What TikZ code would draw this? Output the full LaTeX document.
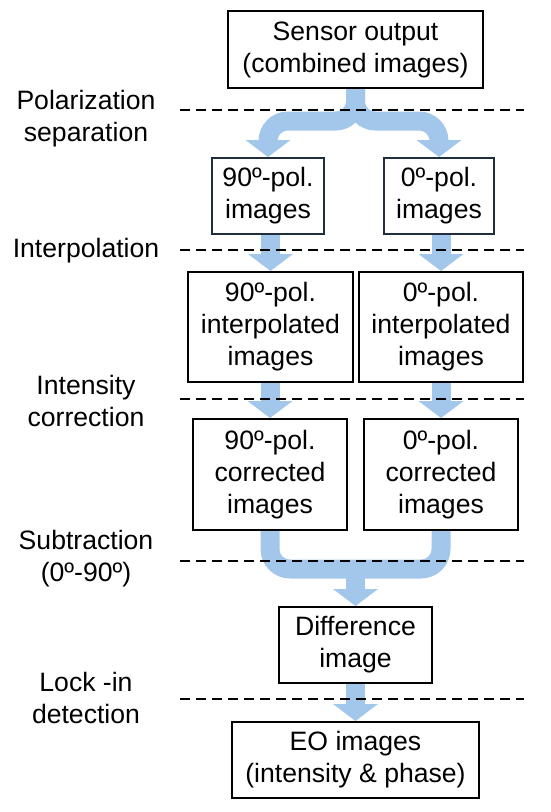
\documentclass[tikz,border=0pt]{standalone}
\usepackage{fontspec}
\setmainfont{Liberation Sans}
\definecolor{arrowblue}{HTML}{A3C7EB}
\definecolor{navyborder}{HTML}{1F2D3D}
\pgfdeclarelayer{bg}
\pgfdeclarelayer{mid}
\pgfsetlayers{bg,mid,main}
\tikzset{
  txt/.style={font=\fontsize{26.6pt}{32pt}\selectfont, align=center, inner sep=0pt},
  box/.style={txt, draw=black, line width=2pt, fill=white},
  navybox/.style={box, draw=navyborder},
  shaft/.style={draw=arrowblue, line width=19pt, rounded corners=20pt},
  sepline/.style={draw=black, line width=2pt, dash pattern=on 10pt off 6pt},
}
\newcommand\bhead[1]{\fill[arrowblue] (#1.north) -- ++(-22.5pt,17pt) -- ++(45pt,0pt) -- cycle;}
\begin{document}
\begin{tikzpicture}[x=1pt,y=-1pt]
\useasboundingbox (0,0) rectangle (550,812);
% boxes
\node[box, minimum width=255pt, minimum height=77pt] (sensor) at (355.5,49.5) {Sensor output\\(combined images)};
\node[navybox, minimum width=112pt, minimum height=76pt] (p90) at (268,196) {90º-pol.\\images};
\node[navybox, minimum width=110pt, minimum height=76pt] (p0) at (439,196) {0º-pol.\\images};
\node[box, minimum width=165pt, minimum height=110pt] (i90) at (270.5,327) {90º-pol.\\interpolated\\images};
\node[box, minimum width=164pt, minimum height=110pt] (i0) at (441,327) {0º-pol.\\interpolated\\images};
\node[box, minimum width=154pt, minimum height=111pt] (c90) at (270,474.5) {90º-pol.\\corrected\\images};
\node[box, minimum width=154pt, minimum height=111pt] (c0) at (441,474.5) {0º-pol.\\corrected\\images};
\node[box, minimum width=153pt, minimum height=76pt] (diff) at (355.5,645) {Difference\\image};
\node[box, minimum width=247pt, minimum height=76pt] (eo) at (355.5,760) {EO images\\(intensity \& phase)};
% step labels
\node[txt] (l1) at (86,119) {Polarization\\separation};
\node[txt] (l2) at (86,251) {Interpolation};
\node[txt] (l3) at (86,401) {Intensity\\correction};
\node[txt] (l4) at (86,559) {Subtraction\\(0º-90º)};
\node[txt] (l5) at (86,698) {Lock -in\\detection};
% separators
\begin{pgfonlayer}{mid}
\draw[sepline] (180,110) -- (524,110);
\draw[sepline] (180,250) -- (524,250);
\draw[sepline] (180,399) -- (524,399);
\draw[sepline] (180,561) -- (524,561);
\draw[sepline] (180,699) -- (524,699);
\end{pgfonlayer}
% arrows
\begin{pgfonlayer}{bg}
\coordinate (split) at (355.5,121);
\coordinate (merge) at (355.5,569);
\draw[shaft] (sensor.south) -- (split) -- (split -| p90.north) -- ([yshift=16pt]p90.north);
\draw[shaft] (sensor.south) -- (split) -- (split -| p0.north) -- ([yshift=16pt]p0.north);
\bhead{p90}
\bhead{p0}
\draw[shaft] (p90.south -| i90.north) -- ([yshift=16pt]i90.north);
\draw[shaft] (p0.south -| i0.north) -- ([yshift=16pt]i0.north);
\bhead{i90}
\bhead{i0}
\draw[shaft] (i90.south -| c90.north) -- ([yshift=16pt]c90.north);
\draw[shaft] (i0.south -| c0.north) -- ([yshift=16pt]c0.north);
\bhead{c90}
\bhead{c0}
\draw[shaft] (c90.south) -- (c90.south |- merge) -- (c0.south |- merge) -- (c0.south);
\draw[shaft] (merge) -- ([yshift=16pt]diff.north);
\bhead{diff}
\draw[shaft] (diff.south) -- ([yshift=16pt]eo.north);
\bhead{eo}
\end{pgfonlayer}
\end{tikzpicture}
\end{document}
